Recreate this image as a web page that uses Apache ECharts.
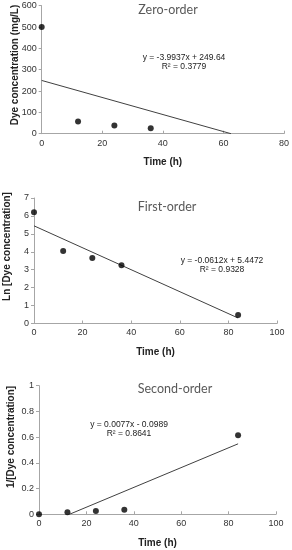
<!DOCTYPE html>
<html><head><meta charset="utf-8">
<script src="https://cdn.jsdelivr.net/npm/echarts@6/dist/echarts.min.js"></script>
<style>html,body{margin:0;padding:0;background:#fff}#c{width:292px;height:550px}</style>
</head><body><div id="c"></div>
<script>
// Zero-order
var zeroPoints = [[0, 500], [12, 57], [24, 38], [36, 25]];
var zeroTrend = [[0, 249.64], [62.5, 0]];
var zeroXTicks = [0, 80, 20];   // min, max, interval
var zeroYTicks = [0, 600, 100];
// First-order
var firstPoints = [[0, 6.2], [12, 4.05], [24, 3.65], [36, 3.25], [84, 0.47]];
var firstTrend = [[0, 5.4472], [84, 0.306]];
var firstXTicks = [0, 100, 20];
var firstYTicks = [0, 7, 1];
// Second-order
var secondPoints = [[0, 0], [12, 0.015], [24, 0.025], [36, 0.035], [84, 0.615]];
var secondTrend = [[12.84, 0], [84, 0.548]];
var secondXTicks = [0, 100, 20];
var secondYTicks = [0, 1, 0.2];

var titles = ['Zero-order', 'First-order', 'Second-order'];
var yNames = ['Dye concentration (mg/L)', 'Ln [Dye concentration]', '1/[Dye concentration]'];
var eqs = ['y = -3.9937x + 249.64', 'y = -0.0612x + 5.4472', 'y = 0.0077x - 0.0989'];
var r2s = ['R² = 0.3779', 'R² = 0.9328', 'R² = 0.8641'];

var chart = echarts.init(document.getElementById('c'));
var axisCol = '#a6a6a6';
var labelStyle = {color: '#333', fontSize: 9, fontFamily: 'Liberation Sans'};
function xAxis(idx, t) {
  return {gridIndex: idx, type: 'value', min: t[0], max: t[1], interval: t[2],
    splitLine: {show: false},
    axisLine: {lineStyle: {color: axisCol}},
    axisTick: {inside: true, length: 3, lineStyle: {color: axisCol}},
    axisLabel: Object.assign({margin: 5}, labelStyle),
    name: 'Time (h)', nameLocation: 'middle', nameGap: 24,
    nameTextStyle: {fontWeight: 'bold', fontSize: 10, color: '#222', fontFamily: 'Liberation Sans'}};
}
function yAxis(idx, t) {
  return {gridIndex: idx, type: 'value', min: t[0], max: t[1], interval: t[2],
    splitLine: {show: false},
    axisLine: {show: true, lineStyle: {color: axisCol}},
    axisTick: {show: true, length: 3, lineStyle: {color: axisCol}},
    axisLabel: Object.assign({margin: 5}, labelStyle)};
}
function scatter(idx, d) {
  return {type: 'scatter', xAxisIndex: idx, yAxisIndex: idx, data: d, symbolSize: 6,
    itemStyle: {color: '#000'}, z: 3};
}
function trend(idx, d) {
  return {type: 'line', xAxisIndex: idx, yAxisIndex: idx, data: d, symbol: 'none',
    lineStyle: {color: '#404040', width: 1}, z: 2};
}
function yName(idx, x, y) {
  return {type: 'text', x: x, y: y, rotation: Math.PI / 2,
    style: {text: yNames[idx], align: 'center', verticalAlign: 'middle',
      font: 'bold 10px "Liberation Sans"', fill: '#222'}};
}
var titleStyle = {color: '#595959', fontSize: 12.5, fontWeight: 'normal', fontFamily: 'Lato'};
var eqStyle = {color: '#222', fontSize: 8.5, fontWeight: 'normal', fontFamily: 'Liberation Sans'};
chart.setOption({
  animation: false,
  grid: [
    {left: 41.7, right: 6.3, top: 5.7, height: 128},
    {left: 34, right: 15, top: 198, height: 125.5},
    {left: 39, right: 16, top: 385.7, height: 128.6}
  ],
  title: [
    {text: titles[0], left: 163, top: -2, textAlign: 'center', textStyle: titleStyle},
    {text: titles[1], left: 162, top: 195, textAlign: 'center', textStyle: titleStyle},
    {text: titles[2], left: 170, top: 377, textAlign: 'center', textStyle: titleStyle},
    {text: eqs[0], left: 179, top: 48, textAlign: 'center', textStyle: eqStyle},
    {text: r2s[0], left: 179, top: 57, textAlign: 'center', textStyle: eqStyle},
    {text: eqs[1], left: 217, top: 251, textAlign: 'center', textStyle: eqStyle},
    {text: r2s[1], left: 217, top: 260, textAlign: 'center', textStyle: eqStyle},
    {text: eqs[2], left: 124, top: 415, textAlign: 'center', textStyle: eqStyle},
    {text: r2s[2], left: 124, top: 424, textAlign: 'center', textStyle: eqStyle}
  ],
  graphic: [yName(0, 15.7, 65), yName(1, 7, 246.5), yName(2, 11, 437)],
  xAxis: [xAxis(0, zeroXTicks), xAxis(1, firstXTicks), xAxis(2, secondXTicks)],
  yAxis: [yAxis(0, zeroYTicks), yAxis(1, firstYTicks), yAxis(2, secondYTicks)],
  series: [
    trend(0, zeroTrend), scatter(0, zeroPoints),
    trend(1, firstTrend), scatter(1, firstPoints),
    trend(2, secondTrend), scatter(2, secondPoints)
  ]
});
</script></body></html>
